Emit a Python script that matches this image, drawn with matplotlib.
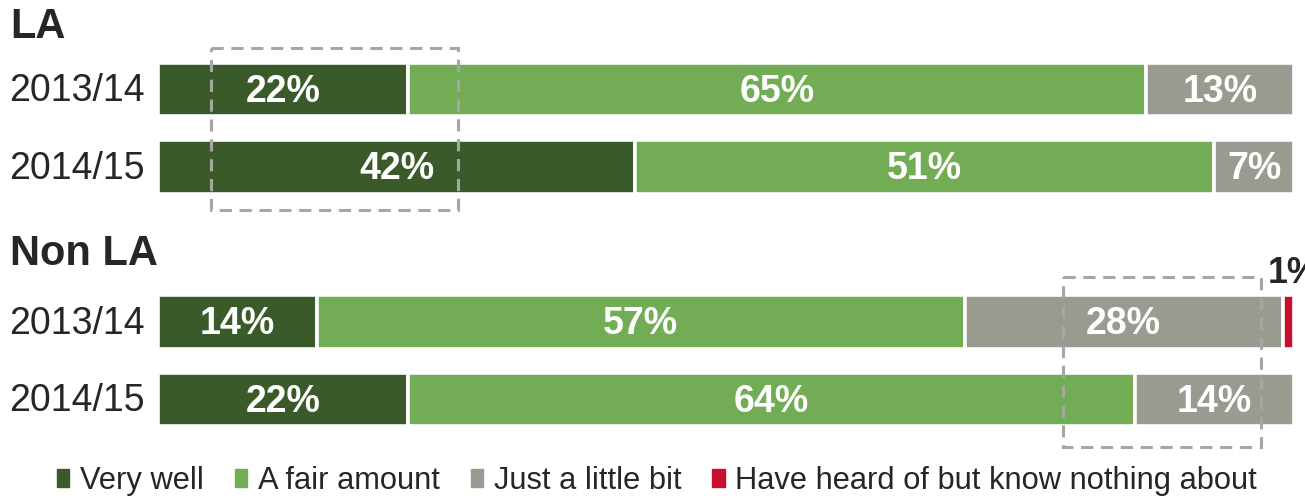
import matplotlib
matplotlib.use("Agg")
import matplotlib.pyplot as plt
from matplotlib.patches import Rectangle

plt.rcParams['font.family'] = ['Liberation Sans', 'DejaVu Sans']

# Survey: how well respondents know the organisation
groups = ["LA", "Non LA"]
years = ["2013/14", "2014/15"]
categories = ["Very well", "A fair amount", "Just a little bit",
              "Have heard of but know nothing about"]
colors = ["#3A5A2A", "#72AD56", "#9B9A91", "#C8102E"]

la_very_well = [22, 42]
la_fair_amount = [65, 51]
la_little_bit = [13, 7]
la_heard_only = [0, 0]

nonla_very_well = [14, 22]
nonla_fair_amount = [57, 64]
nonla_little_bit = [28, 14]
nonla_heard_only = [1, 0]

series = {
    "LA": [la_very_well, la_fair_amount, la_little_bit, la_heard_only],
    "Non LA": [nonla_very_well, nonla_fair_amount, nonla_little_bit, nonla_heard_only],
}

W, H = 1305, 496
fig = plt.figure(figsize=(W / 100, H / 100), dpi=100)
x0, x1 = 158, 1294
ax = fig.add_axes([x0 / W, 0, (x1 - x0) / W, 1])
ax.set_xlim(0, 100)
unit = 77.5
ax.set_ylim((H - 89.5) / unit, -89.5 / unit)
ax.axis("off")

text_dark = "#262626"
fs = 27
bar_h = 0.69
group_pos = {"LA": [0, 1], "Non LA": [3, 4]}
title_pos = {"LA": -0.80, "Non LA": 2.12}

for g in groups:
    ypos = group_pos[g]
    ax.text(-13.0, title_pos[g], g, ha="left", va="center", fontsize=30,
            fontweight="bold", color=text_dark, clip_on=False)
    for i, yr in enumerate(years):
        y = ypos[i]
        ax.text(-1.15, y + 0.02, yr, ha="right", va="center", fontsize=27,
                color=text_dark, clip_on=False)
        left = 0
        for k, vals in enumerate(series[g]):
            v = vals[i]
            if v <= 0:
                continue
            ax.barh(y, v, left=left, height=bar_h, color=colors[k],
                    edgecolor="white", linewidth=2.6)
            if v >= 5:
                ax.text(left + v / 2, y + 0.03, f"{v}%", ha="center", va="center",
                        fontsize=fs, fontweight="bold", color="white")
            else:
                ax.text(left + v / 2 + 0.5, y - 0.62, f"{v}%", ha="center",
                        va="center", fontsize=fs * 0.95, fontweight="bold",
                        color=text_dark, clip_on=False)
            left += v

# Highlight boxes around the changes of interest
box_style = dict(fill=False, edgecolor="#A6A6A6", linewidth=2.2,
                 linestyle=(0, (4, 2.5)), clip_on=False)
ax.add_patch(Rectangle((4.7, -0.535), 21.7, 2.09, **box_style))
ax.add_patch(Rectangle((79.7, 2.42), 17.4, 2.19, **box_style))

handles = [Rectangle((0, 0), 1, 1, color=c) for c in colors]
fig.legend(handles, categories, loc="center", bbox_to_anchor=(657 / W, 1 - 481 / H),
           ncol=4, frameon=False, fontsize=22.2, handlelength=0.4, handleheight=0.55,
           handletextpad=0.35, columnspacing=1.0, labelcolor=text_dark,
           borderpad=0, borderaxespad=0)

fig.savefig("out.png", dpi=100)
